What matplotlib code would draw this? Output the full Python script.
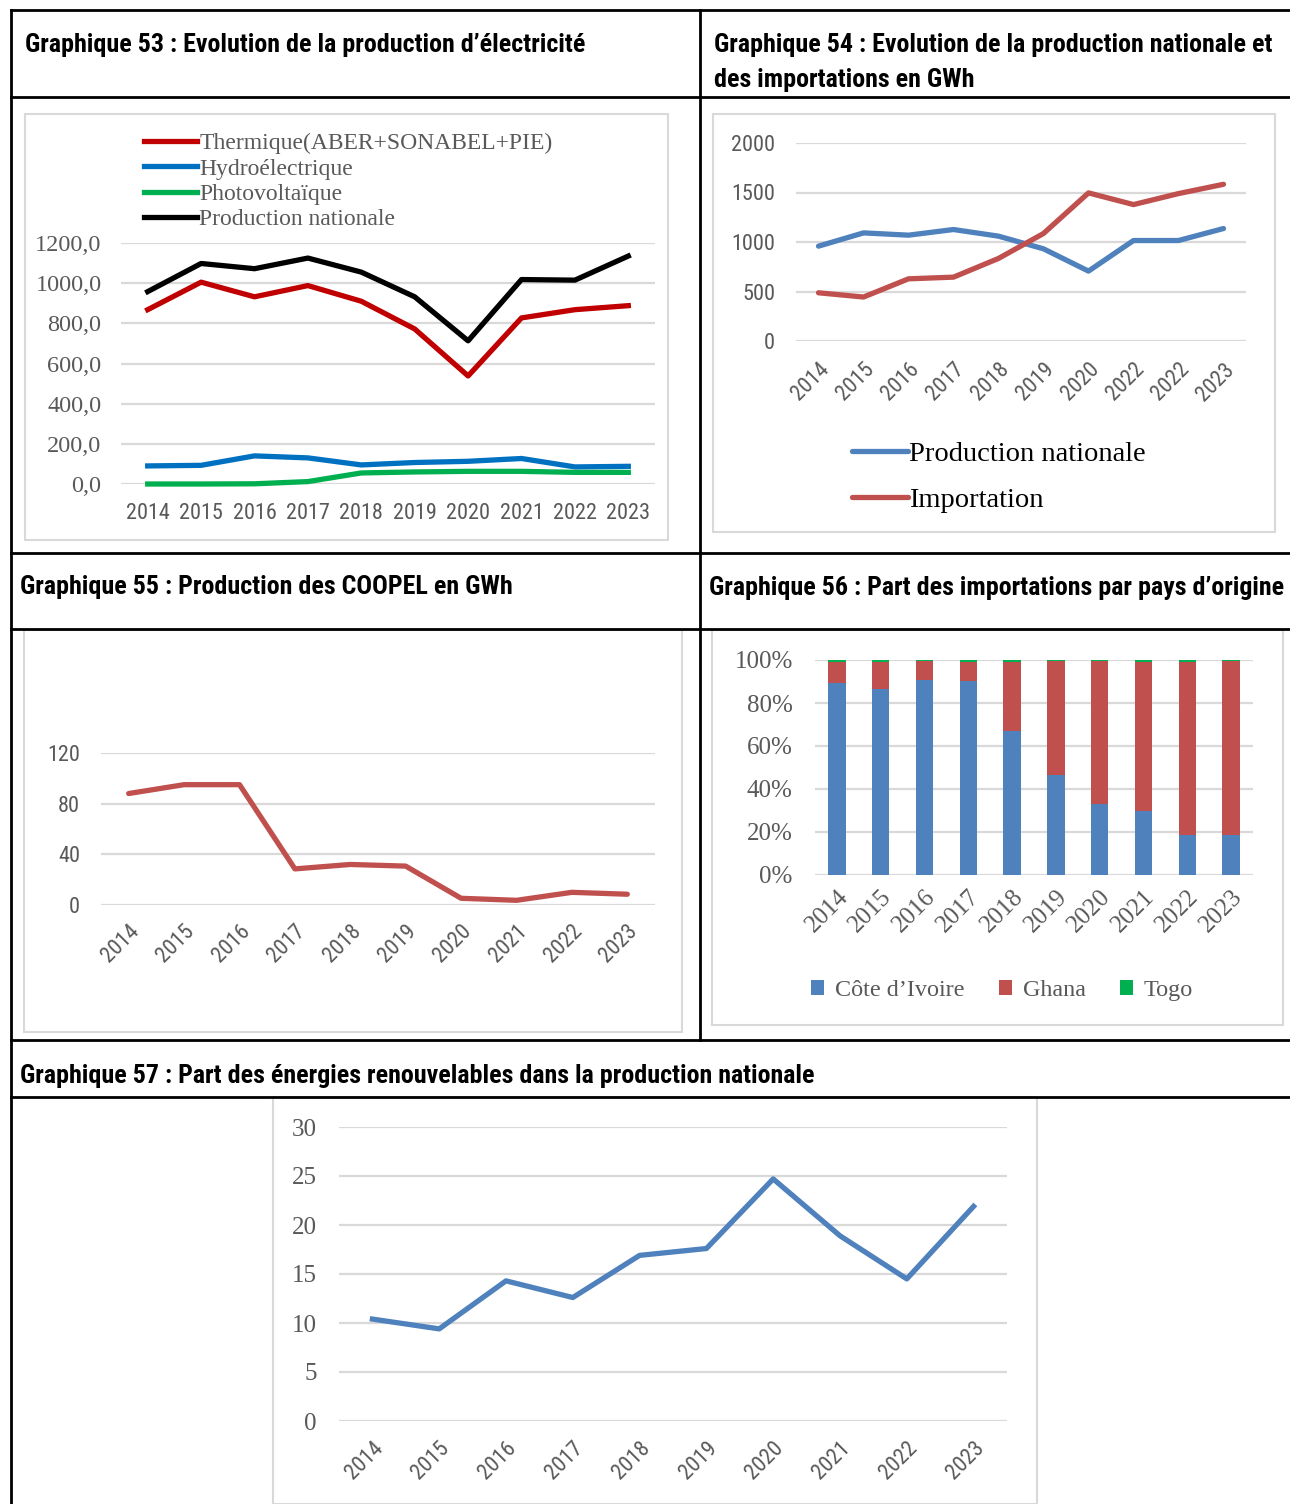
import matplotlib
matplotlib.use("Agg")
import matplotlib.pyplot as plt
from matplotlib import font_manager
from matplotlib.lines import Line2D
from matplotlib.patches import Rectangle

# ---- data ----
years = ['2014', '2015', '2016', '2017', '2018', '2019', '2020', '2021', '2022', '2023']

# Graphique 53
thermique = [868, 1005, 932, 988, 910, 772, 538, 827, 868, 888]
hydro = [90, 93, 140, 130, 95, 107, 113, 127, 85, 88]
photovoltaique = [0, 0, 1, 12, 55, 60, 63, 63, 58, 58]
prod_nationale = [958, 1098, 1072, 1125, 1055, 932, 713, 1018, 1015, 1135]

# Graphique 54 (labels as printed in the source, 2022 twice)
years_54 = ['2014', '2015', '2016', '2017', '2018', '2019', '2020', '2022', '2022', '2023']
prod_54 = [958, 1092, 1069, 1126, 1059, 931, 706, 1015, 1015, 1136]
import_54 = [487, 444, 628, 645, 834, 1086, 1496, 1378, 1489, 1583]

# Graphique 55
coopel = [88, 95, 95, 28.5, 32, 30.7, 5.3, 3.7, 10, 8.5]

# Graphique 56 (%)
cote_ivoire = [89.2, 86.4, 90.6, 90.4, 67.0, 46.4, 33.0, 29.9, 18.6, 18.6]
ghana = [10.1, 12.8, 8.8, 8.8, 32.2, 53.0, 66.6, 69.4, 80.7, 81.0]
togo = [0.7, 0.8, 0.6, 0.8, 0.8, 0.6, 0.4, 0.7, 0.7, 0.4]

# Graphique 57
renouvelables = [10.4, 9.4, 14.3, 12.6, 16.9, 17.6, 24.7, 18.9, 14.5, 21.9]

# ---- fonts ----
installed = {f.name for f in font_manager.fontManager.ttflist}
NARROW = 'Liberation Sans'
for fam in ['Liberation Sans Narrow', 'Arial Narrow', 'Roboto Condensed', 'Open Sans Condensed']:
    if fam in installed:
        NARROW = fam
        break
SERIF = 'Liberation Serif'
GREY = '#595959'
GRID = '#D9D9D9'

W, H = 1290, 1504
fig = plt.figure(figsize=(W / 100, H / 100), dpi=100)


def fx(x):
    return x / W


def fy(y):
    return 1 - y / H


def px_axes(x0, y0, x1, y1):
    # axes from pixel box (top-left origin)
    return fig.add_axes([fx(x0), fy(y1), (x1 - x0) / W, (y1 - y0) / H])


def hline(x0, x1, y, **kw):
    fig.add_artist(Line2D([fx(x0), fx(x1)], [fy(y), fy(y)], transform=fig.transFigure, **kw))


def vline(x, y0, y1, **kw):
    fig.add_artist(Line2D([fx(x), fx(x)], [fy(y0), fy(y1)], transform=fig.transFigure, **kw))


def chart_box(x0, y0, x1, y1):
    fig.add_artist(Rectangle((fx(x0), fy(y1)), (x1 - x0) / W, (y1 - y0) / H,
                             transform=fig.transFigure, fill=False,
                             edgecolor=GRID, linewidth=1.5))


def style_axes(ax, ymax, yticks):
    ax.set_ylim(0, ymax)
    ax.set_xlim(-0.5, 9.5)
    ax.set_yticks(yticks)
    ax.grid(axis='y', color=GRID, linewidth=1.6)
    ax.set_axisbelow(True)
    for s in ax.spines.values():
        s.set_visible(False)
    ax.tick_params(length=0, colors=GREY)
    ax.patch.set_alpha(0)


def set_ticks_font(labels, family, size):
    for t in labels:
        t.set_fontfamily(family)
        t.set_fontsize(size)


# ---- table grid ----
tk = dict(color='black', linewidth=2)
for y in [10, 97, 553, 629, 1040, 1097]:
    hline(11, 1290, y, **tk)
vline(11, 10, 1504, **tk)
vline(700, 10, 1040, **tk)

# titles: size fitted so that the first title is as wide as in the source page
title_kw = dict(fontfamily=NARROW, fontweight='bold', fontsize=17, va='center', ha='left')
titles = [
    (25, 45, "Graphique 53 : Evolution de la production d\u2019électricité"),
    (714, 45, "Graphique 54 : Evolution de la production nationale et"),
    (714, 80, "des importations en GWh"),
    (20, 587, "Graphique 55 : Production des COOPEL en GWh"),
    (709, 588, "Graphique 56 : Part des importations par pays d\u2019origine"),
    (20, 1076, "Graphique 57 : Part des énergies renouvelables dans la production nationale"),
]
title_texts = [fig.text(fx(x0), fy(y0), s, **title_kw) for x0, y0, s in titles]
renderer = fig.canvas.get_renderer()
w53 = title_texts[0].get_window_extent(renderer).width
title_size = 17 * 562 / w53
for t in title_texts:
    t.set_fontsize(title_size)

# ---- Graphique 53 ----
chart_box(25, 114, 668, 540)
ax = px_axes(121, 243, 655, 484)
style_axes(ax, 1200, range(0, 1201, 200))
x = range(len(years))
l1, = ax.plot(x, thermique, color='#C00000', lw=3.8, clip_on=False)
l2, = ax.plot(x, hydro, color='#0070C0', lw=3.8, clip_on=False)
l3, = ax.plot(x, photovoltaique, color='#00B050', lw=3.8, clip_on=False)
l4, = ax.plot(x, prod_nationale, color='black', lw=3.8, clip_on=False)
ax.set_xticks(list(x))
ax.set_xticklabels(years, fontfamily=NARROW, fontsize=16)
ax.set_yticklabels([f"{v},0" for v in range(0, 1201, 200)], fontfamily=SERIF, fontsize=17.5)
ax.tick_params(axis='x', pad=14)
ax.tick_params(axis='y', pad=14)
ax.legend([l1, l2, l3, l4],
          ['Thermique(ABER+SONABEL+PIE)', 'Hydroélectrique', 'Photovoltaïque', 'Production nationale'],
          loc='upper left', bbox_to_anchor=(fx(132), fy(121)), bbox_transform=fig.transFigure,
          frameon=False, prop={'family': SERIF, 'size': 17}, labelcolor=GREY,
          handlelength=2.25, handletextpad=0.1, labelspacing=0.16, borderpad=0)

# ---- Graphique 54 ----
chart_box(713, 114, 1275, 532)
ax = px_axes(796, 143, 1246, 341)
style_axes(ax, 2000, range(0, 2001, 500))
m1, = ax.plot(x, prod_54, color='#4F81BD', lw=3.8, clip_on=False, solid_capstyle='round')
m2, = ax.plot(x, import_54, color='#C0504D', lw=3.8, clip_on=False, solid_capstyle='round')
ax.set_xticks(list(x))
ax.set_xticklabels(years_54, fontfamily=NARROW, fontsize=16, rotation=45, ha='right',
                   rotation_mode='anchor')
set_ticks_font(ax.get_yticklabels(), NARROW, 16)
ax.tick_params(axis='y', pad=15)
ax.tick_params(axis='x', pad=13)
ax.legend([m1, m2], ['Production nationale', 'Importation'],
          loc='upper left', bbox_to_anchor=(fx(838), fy(427)), bbox_transform=fig.transFigure,
          frameon=False, prop={'family': SERIF, 'size': 20.5}, labelcolor='black',
          handlelength=1.95, handletextpad=0.05, labelspacing=0.7, borderpad=0)

# ---- Graphique 55 ----
chart_box(24, 630, 682, 1032)
ax = px_axes(101, 753, 655, 905)
style_axes(ax, 120, [0, 40, 80, 120])
ax.plot(x, coopel, color='#C0504D', lw=3.8, clip_on=False, solid_capstyle='round')
ax.set_xticks(list(x))
ax.set_xticklabels(years, fontfamily=NARROW, fontsize=16, rotation=45, ha='right',
                   rotation_mode='anchor')
set_ticks_font(ax.get_yticklabels(), NARROW, 16)
ax.tick_params(axis='y', pad=15)
ax.tick_params(axis='x', pad=11)

# ---- Graphique 56 ----
chart_box(712, 630, 1283, 1025)
ax = px_axes(815, 660, 1253, 875)
style_axes(ax, 100, range(0, 101, 20))
bw = 0.4
ax.bar(x, cote_ivoire, width=bw, color='#4F81BD', label='Côte d\u2019Ivoire')
ax.bar(x, ghana, width=bw, bottom=cote_ivoire, color='#C0504D', label='Ghana')
bottom2 = [a + b for a, b in zip(cote_ivoire, ghana)]
ax.bar(x, togo, width=bw, bottom=bottom2, color='#00B050', label='Togo')
ax.set_xticks(list(x))
ax.set_xticklabels(years, fontfamily=SERIF, fontsize=18, rotation=45, ha='right',
                   rotation_mode='anchor')
ax.set_yticklabels([f"{v}%" for v in range(0, 101, 20)], fontfamily=SERIF, fontsize=18)
ax.tick_params(axis='y', pad=16)
ax.tick_params(axis='x', pad=8)
ax.legend(loc='upper left', bbox_to_anchor=(fx(799), fy(968)), bbox_transform=fig.transFigure,
          ncol=3, frameon=False, prop={'family': SERIF, 'size': 17.4}, labelcolor=GREY,
          handlelength=0.55, handleheight=0.55, handletextpad=0.45, columnspacing=1.4,
          borderpad=0)

# ---- Graphique 57 ----
chart_box(273, 1097, 1037, 1504)
ax = px_axes(339, 1127, 1007, 1421)
style_axes(ax, 30, range(0, 31, 5))
ax.plot(x, renouvelables, color='#4F81BD', lw=3.8, clip_on=False)
ax.set_xticks(list(x))
ax.set_xticklabels(years, fontfamily=NARROW, fontsize=16, rotation=45, ha='right',
                   rotation_mode='anchor')
set_ticks_font(ax.get_yticklabels(), SERIF, 18)
ax.tick_params(axis='y', pad=16)
ax.tick_params(axis='x', pad=12)

fig.savefig('out.png', dpi=100)
